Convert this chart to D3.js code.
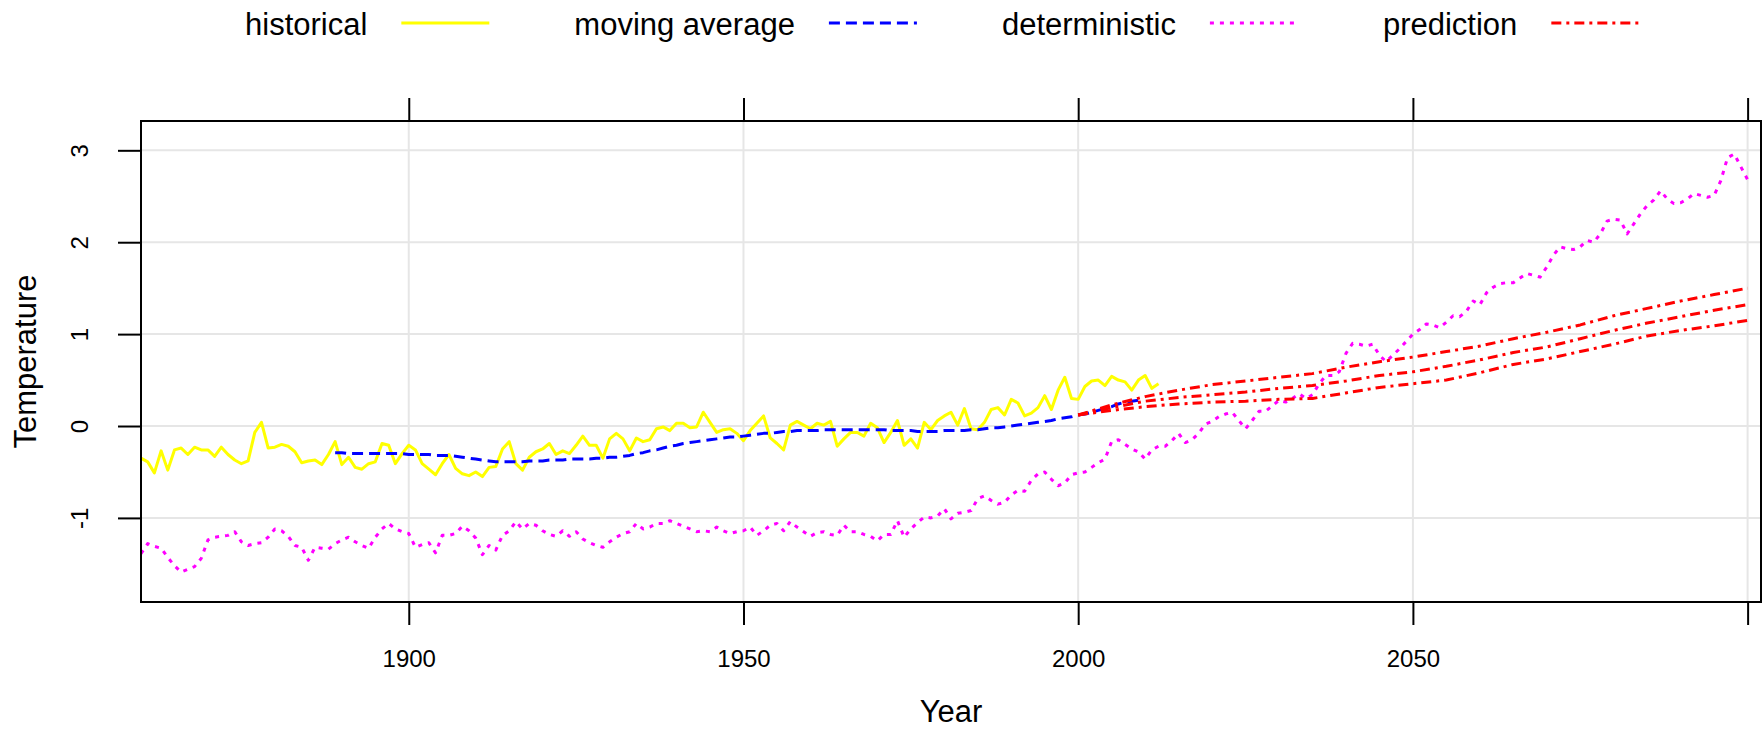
<!DOCTYPE html>
<html>
<head>
<meta charset="utf-8">
<script src="https://cdn.jsdelivr.net/npm/d3@7"></script>
<style>
  html, body { margin: 0; padding: 0; background: #fff; }
  svg { display: block; }
  text { font-family: "Liberation Sans", Arial, Helvetica, sans-serif; fill: #000; }
</style>
</head>
<body>
<svg id="chart" width="1764" height="730"></svg>
<script>
// ---------------- DATA ----------------
const histStart = 1860;
const historical = [
  -0.35, -0.39, -0.51, -0.27, -0.48, -0.26, -0.24, -0.31, -0.23, -0.26,
  -0.26, -0.33, -0.23, -0.31, -0.37, -0.41, -0.38, -0.07, 0.04, -0.24,
  -0.23, -0.20, -0.22, -0.28, -0.40, -0.38, -0.37, -0.42, -0.31, -0.17,
  -0.42, -0.34, -0.45, -0.47, -0.41, -0.39, -0.19, -0.21, -0.41, -0.30,
  -0.21, -0.26, -0.41, -0.47, -0.53, -0.41, -0.31, -0.46, -0.52, -0.54,
  -0.50, -0.55, -0.45, -0.44, -0.25, -0.17, -0.41, -0.48, -0.34, -0.28,
  -0.25, -0.19, -0.31, -0.27, -0.30, -0.21, -0.11, -0.21, -0.21, -0.35,
  -0.14, -0.08, -0.14, -0.27, -0.13, -0.17, -0.15, -0.03, -0.01, -0.05,
  0.03, 0.03, -0.02, -0.01, 0.15, 0.04, -0.07, -0.04, -0.03, -0.08,
  -0.16, -0.05, 0.03, 0.11, -0.13, -0.19, -0.26, 0.01, 0.05, 0.01,
  -0.03, 0.03, 0.01, 0.05, -0.22, -0.14, -0.07, -0.07, -0.11, 0.03,
  -0.02, -0.18, -0.07, 0.06, -0.21, -0.14, -0.24, 0.04, -0.04, 0.06,
  0.11, 0.15, 0.01, 0.19, -0.03, -0.04, 0.04, 0.18, 0.20, 0.12,
  0.29, 0.25, 0.11, 0.14, 0.20, 0.33, 0.18, 0.39, 0.53, 0.30,
  0.29, 0.43, 0.49, 0.50, 0.44, 0.54, 0.50, 0.48, 0.39, 0.50,
  0.55, 0.41, 0.46
];

const maStart = 1889;
const movingAverage = [
  -0.29, -0.29, -0.30, -0.30, -0.30, -0.30, -0.30, -0.30, -0.30, -0.30, -0.30,
  -0.31, -0.31, -0.31, -0.31, -0.32, -0.32, -0.32, -0.33, -0.34, -0.35,
  -0.36, -0.37, -0.38, -0.39, -0.39, -0.39, -0.39, -0.39, -0.38, -0.38,
  -0.38, -0.37, -0.37, -0.37, -0.36, -0.36, -0.36, -0.36, -0.35, -0.35,
  -0.34, -0.34, -0.33, -0.32, -0.30, -0.29, -0.27, -0.26, -0.24, -0.22,
  -0.21, -0.19, -0.18, -0.17, -0.16, -0.15, -0.14, -0.13, -0.12, -0.12,
  -0.11, -0.10, -0.09, -0.08, -0.08, -0.07, -0.06, -0.06, -0.05, -0.05,
  -0.05, -0.05, -0.04, -0.04, -0.04, -0.04, -0.04, -0.04, -0.04, -0.04,
  -0.04, -0.04, -0.05, -0.05, -0.05, -0.05, -0.06, -0.06, -0.06, -0.06,
  -0.05, -0.05, -0.05, -0.05, -0.04, -0.04, -0.03, -0.02, -0.02, -0.01,
  0.00, 0.01, 0.02, 0.03, 0.04, 0.05, 0.06, 0.08, 0.09, 0.10,
  0.12, 0.13, 0.15, 0.17, 0.19, 0.21, 0.24, 0.26, 0.27, 0.28
];

const detStart = 1860;
const deterministic = [
  -1.39, -1.28, -1.31, -1.33, -1.43, -1.52, -1.59, -1.56, -1.53, -1.44,
  -1.24, -1.21, -1.20, -1.19, -1.15, -1.26, -1.30, -1.28, -1.27, -1.21,
  -1.12, -1.14, -1.20, -1.30, -1.32, -1.46, -1.32, -1.33, -1.34, -1.28,
  -1.24, -1.21, -1.26, -1.30, -1.33, -1.21, -1.12, -1.06, -1.12, -1.15,
  -1.17, -1.32, -1.29, -1.27, -1.38, -1.19, -1.19, -1.17, -1.09, -1.14,
  -1.22, -1.40, -1.30, -1.35, -1.19, -1.14, -1.04, -1.12, -1.06, -1.08,
  -1.14, -1.18, -1.20, -1.14, -1.20, -1.15, -1.23, -1.27, -1.30, -1.32,
  -1.26, -1.21, -1.17, -1.15, -1.06, -1.12, -1.10, -1.06, -1.06, -1.03,
  -1.06, -1.09, -1.12, -1.15, -1.14, -1.15, -1.10, -1.14, -1.17, -1.15,
  -1.14, -1.10, -1.19, -1.14, -1.08, -1.06, -1.14, -1.04, -1.10, -1.15,
  -1.20, -1.16, -1.15, -1.18, -1.19, -1.08, -1.15, -1.15, -1.18, -1.20,
  -1.25, -1.18, -1.18, -1.03, -1.21, -1.12, -1.05, -0.99, -1.00, -0.98,
  -0.90, -1.01, -0.95, -0.94, -0.92, -0.79, -0.76, -0.81, -0.85, -0.83,
  -0.75, -0.70, -0.71, -0.59, -0.52, -0.50, -0.58, -0.65, -0.62, -0.53,
  -0.51, -0.50, -0.45, -0.40, -0.36, -0.17, -0.15, -0.20, -0.25, -0.28,
  -0.36, -0.26, -0.22, -0.22, -0.16, -0.08, -0.18, -0.15, -0.08, 0.02,
  0.05, 0.10, 0.13, 0.15, 0.06, -0.03, 0.06, 0.16, 0.16, 0.22,
  0.28, 0.26, 0.30, 0.35, 0.30, 0.34, 0.46, 0.55, 0.55, 0.59,
  0.79, 0.90, 0.89, 0.87, 0.89, 0.77, 0.70, 0.77, 0.84, 0.92,
  1.00, 1.05, 1.11, 1.10, 1.07, 1.13, 1.20, 1.19, 1.25, 1.36,
  1.32, 1.45, 1.51, 1.55, 1.56, 1.56, 1.61, 1.66, 1.64, 1.62,
  1.73, 1.86, 1.95, 1.93, 1.92, 1.95, 2.02, 2.00, 2.09, 2.23,
  2.25, 2.24, 2.09, 2.20, 2.31, 2.40, 2.46, 2.56, 2.47, 2.42,
  2.43, 2.47, 2.53, 2.51, 2.49, 2.51, 2.67, 2.92, 2.96, 2.82,
  2.68
];

const predYears = [2000, 2005, 2010, 2015, 2020, 2025, 2030, 2035, 2040, 2045, 2050,
                   2055, 2060, 2065, 2070, 2075, 2080, 2085, 2090, 2095, 2100];
const predUpper = [0.12, 0.23, 0.32, 0.39, 0.45, 0.49, 0.53, 0.57, 0.64, 0.70, 0.75,
                   0.81, 0.87, 0.95, 1.02, 1.10, 1.20, 1.28, 1.36, 1.43, 1.50];
const predMid   = [0.12, 0.20, 0.27, 0.31, 0.34, 0.37, 0.41, 0.44, 0.49, 0.55, 0.59,
                   0.65, 0.72, 0.80, 0.86, 0.95, 1.04, 1.12, 1.19, 1.26, 1.32];
const predLower = [0.12, 0.17, 0.21, 0.24, 0.26, 0.27, 0.29, 0.30, 0.36, 0.42, 0.46,
                   0.50, 0.58, 0.67, 0.73, 0.81, 0.89, 0.98, 1.04, 1.09, 1.15];

const xTicks = [1900, 1950, 2000, 2050, 2100];
const xTickLabels = ["1900", "1950", "2000", "2050", ""];
const yTicks = [-1, 0, 1, 2, 3];
const yTickLabels = ["-1", "0", "1", "2", "3"];
const legendLabels = ["historical", "moving average", "deterministic", "prediction"];
const seriesColors = ["#ffff00", "#0000ff", "#ff00ff", "#ff0000"];
const seriesDash = [null, "11,6", "4,6", "10,5,3,5"];
const xLabel = "Year";
const yLabel = "Temperature";

// ---------------- LAYOUT ----------------
const L = 141, R = 1761, T = 121, B = 602;
const svg = d3.select("#chart");

const x = d3.scaleLinear().domain([1860, 2102.0]).range([L, R]);
const y = d3.scaleLinear().domain([-1.915, 3.319]).range([B, T]);

// gridlines
const grid = svg.append("g");
grid.selectAll("line.gx").data(xTicks).join("line")
  .attr("x1", d => x(d)).attr("x2", d => x(d)).attr("y1", T).attr("y2", B)
  .attr("stroke", "#e6e6e6").attr("stroke-width", 2);
grid.selectAll("line.gy").data(yTicks).join("line")
  .attr("x1", L).attr("x2", R).attr("y1", d => y(d)).attr("y2", d => y(d))
  .attr("stroke", "#e6e6e6").attr("stroke-width", 2);

// clip
svg.append("clipPath").attr("id", "plotclip")
  .append("rect").attr("x", L).attr("y", T).attr("width", R - L).attr("height", B - T);

const plot = svg.append("g").attr("clip-path", "url(#plotclip)");
const line = d3.line().x(d => x(d[0])).y(d => y(d[1]));

const histPts = historical.map((v, i) => [histStart + i, v]);
const maPts = movingAverage.map((v, i) => [maStart + i, v]);
const detPts = deterministic.map((v, i) => [detStart + i, v]);
const predSets = [predUpper, predMid, predLower].map(arr => arr.map((v, i) => [predYears[i], v]));

function drawLine(pts, idx) {
  const p = plot.append("path").datum(pts).attr("d", line)
    .attr("fill", "none").attr("stroke", seriesColors[idx]).attr("stroke-width", 3)
    .attr("stroke-linejoin", "round");
  if (seriesDash[idx]) p.attr("stroke-dasharray", seriesDash[idx]);
}
drawLine(histPts, 0);
drawLine(maPts, 1);
drawLine(detPts, 2);
predSets.forEach(s => drawLine(s, 3));

// frame
svg.append("rect").attr("x", L).attr("y", T).attr("width", R - L).attr("height", B - T)
  .attr("fill", "none").attr("stroke", "#000").attr("stroke-width", 2);

// axes
const tickLen = 23;
const axB = svg.append("g").attr("transform", `translate(0,${B})`)
  .call(d3.axisBottom(x).tickValues(xTicks).tickSize(tickLen)
    .tickFormat((d, i) => xTickLabels[i]));
const axT = svg.append("g").attr("transform", `translate(0,${T})`)
  .call(d3.axisTop(x).tickValues(xTicks).tickSize(tickLen).tickFormat(""));
const axL = svg.append("g").attr("transform", `translate(${L},0)`)
  .call(d3.axisLeft(y).tickValues(yTicks).tickSize(tickLen)
    .tickFormat((d, i) => yTickLabels[i]));

[axB, axT, axL].forEach(a => {
  a.select(".domain").remove();
  a.selectAll(".tick line").attr("stroke", "#000").attr("stroke-width", 2);
});
axB.selectAll(".tick text").attr("y", 65).attr("dy", null)
  .attr("font-size", 24).attr("font-family", null).attr("fill", "#000");
axL.selectAll(".tick text").attr("x", null).attr("dy", null)
  .attr("text-anchor", "middle")
  .attr("transform", "translate(-53,0) rotate(-90)")
  .attr("font-size", 24).attr("font-family", null).attr("fill", "#000");

// axis titles
svg.append("text").attr("x", (L + R) / 2).attr("y", 722).attr("text-anchor", "middle")
  .attr("font-size", 31).text(xLabel);
svg.append("text").attr("transform", `translate(36,${(T + B) / 2}) rotate(-90)`)
  .attr("text-anchor", "middle").attr("font-size", 31).text(yLabel);

// legend
const leg = svg.append("g");
let cx = 245;
legendLabels.forEach((lab, i) => {
  const t = leg.append("text").attr("x", cx).attr("y", 35).attr("font-size", 31).text(lab);
  const w = t.node().getComputedTextLength();
  const lx = cx + w + 34;
  const ln = leg.append("line").attr("x1", lx).attr("x2", lx + 88).attr("y1", 23).attr("y2", 23)
    .attr("stroke", seriesColors[i]).attr("stroke-width", 3);
  if (seriesDash[i]) ln.attr("stroke-dasharray", seriesDash[i]);
  cx = lx + 88 + 85;
});
</script>
</body>
</html>
